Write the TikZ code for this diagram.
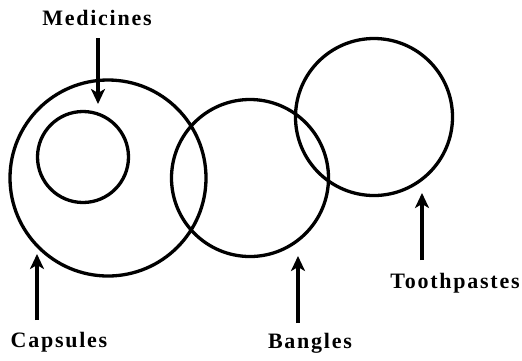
\documentclass[tikz,border=0pt]{standalone}
\usepackage{fontspec}
\setmainfont{Liberation Serif}
\usetikzlibrary{arrows.meta}
\begin{document}
\begin{tikzpicture}[x=1pt,y=-1pt,
  ring/.style={draw, circle, line width=3.3pt, inner sep=0pt, outer sep=0pt},
  lbl/.style={font=\fontsize{22}{26}\selectfont\bfseries\addfontfeature{LetterSpace=8}, inner sep=0pt},
  arr/.style={line width=3.3pt, -{Stealth[length=15pt,width=14pt,inset=4pt]}}]
\useasboundingbox (0,0) rectangle (522,360);
% circles
\node[ring, minimum size=196pt] (caps) at (108,178) {};
\node[ring, minimum size=91pt] (med) at (83,157) {};
\node[ring, minimum size=157pt] (bang) at (250,178) {};
\node[ring, minimum size=157pt] (tooth) at (374,117) {};
% labels
\node[lbl] (medl) at (97,18) {Medicines};
\node[lbl] (capl) at (59,342) {Capsules};
\node[lbl] (bangl) at (310,343) {Bangles};
\node[lbl] (toothl) at (455,283) {Toothpastes};
% arrow ends
\coordinate (medtail) at (98,38);
\coordinate (medtip) at (98,104);
\coordinate (captail) at (37,320);
\coordinate (captip) at (37,254);
\coordinate (bangtail) at (298,323);
\coordinate (bangtip) at (298,256);
\coordinate (toothtail) at (422,260);
\coordinate (toothtip) at (422,193);
\draw[arr] (medtail) -- (medtip);
\draw[arr] (captail) -- (captip);
\draw[arr] (bangtail) -- (bangtip);
\draw[arr] (toothtail) -- (toothtip);
\end{tikzpicture}
\end{document}
